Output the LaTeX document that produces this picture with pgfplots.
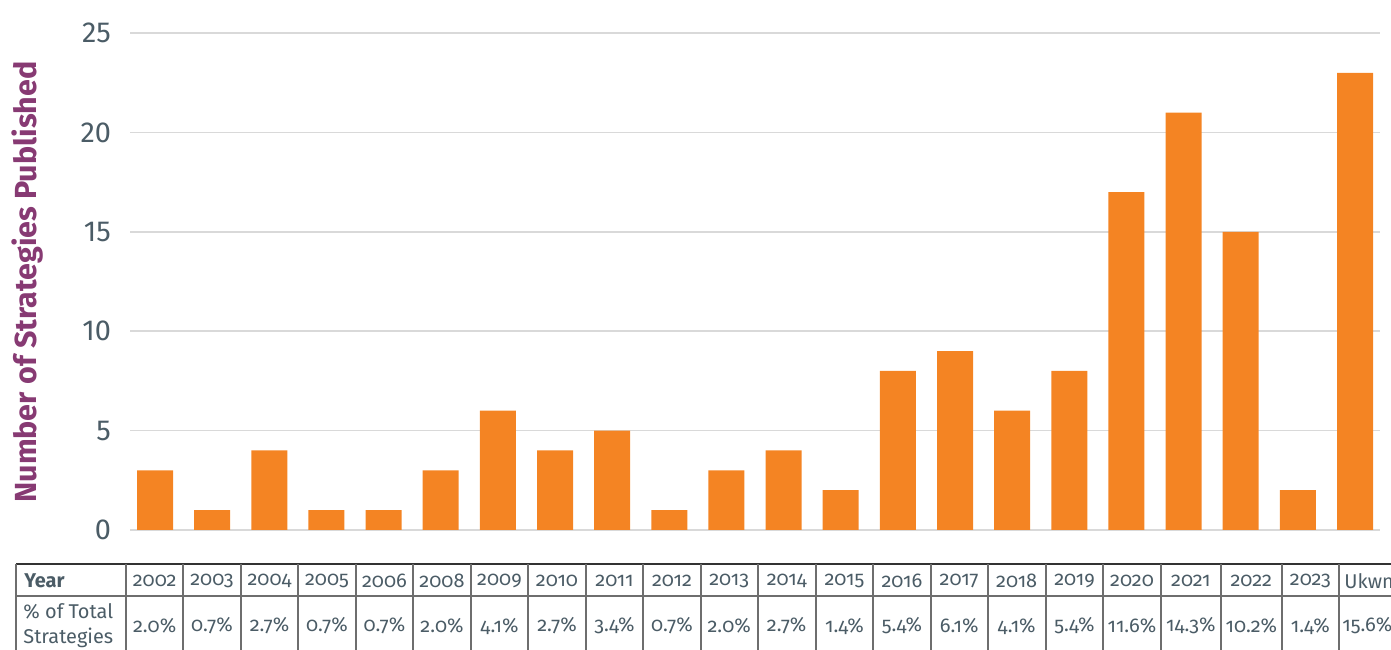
\documentclass[border=0pt]{standalone}
\usepackage{pgfplots}
\pgfplotsset{compat=1.18}
\usepackage{fontspec}
\setmainfont{Fira Sans}[Numbers=OldStyle]
\newfontfamily\lining{Fira Sans}[Numbers=Lining]
\definecolor{barorange}{RGB}{244,132,35}
\definecolor{txt}{RGB}{75,92,102}
\definecolor{purp}{RGB}{135,58,115}
\definecolor{gridc}{RGB}{217,217,217}
\definecolor{tline}{RGB}{110,110,110}
\begin{document}
\begin{tikzpicture}
\path[use as bounding box] (0,0) rectangle (695.5bp,325bp);
\begin{axis}[
  at={(65bp,60bp)}, anchor=south west,
  scale only axis, width=625bp, height=248.5bp,
  xmin=-0.4375, xmax=21.4375, ymin=0, ymax=25,
  ytick={0,5,10,15,20,25}, xtick=\empty,
  ymajorgrids, grid style={gridc, line width=0.8bp},
  axis line style={draw=none},
  major tick length=0pt,
  /pgf/number format/assume math mode=true,
  yticklabel style={font=\fontsize{14.5}{16}\selectfont\lining, text=txt, xshift=-6bp},
  ybar, bar width=18bp,
  clip=false,
]
\addplot[fill=barorange, draw=none] coordinates {(0,3) (1,1) (2,4) (3,1) (4,1) (5,3) (6,6) (7,4) (8,5) (9,1) (10,3) (11,4) (12,2) (13,8) (14,9) (15,6) (16,8) (17,17) (18,21) (19,15) (20,2) (21,23)};
\end{axis}
\node[rotate=90, text=purp, font=\fontsize{15.3}{18}\selectfont\bfseries] at (14bp,184bp) {Number of Strategies Published};
\begin{scope}[x=0.5bp, y=-0.5bp, shift={(0bp,325bp)}]
  \draw[black!80, line width=1bp] (16,564.5) -- (1400,564.5);
  \draw[tline, line width=1bp] (16,595.7) -- (1400,595.7);
  \foreach \b in {16,126,183.3,240.7,298.3,355.7,413.3,470.7,528.3,585.7,643.3,700.7,757.7,815.7,873.3,930.7,987.7,1045.7,1103.3,1160.7,1221,1281.7,1339}
    \draw[tline, line width=1bp] (\b,564.5) -- (\b,665);
  \node[anchor=west, text=txt, font=\fontsize{10}{12.5}\selectfont\bfseries, inner sep=0pt] at (24,581) {Year};
  \node[anchor=west, text=txt, font=\fontsize{10}{12.5}\selectfont, align=left, inner sep=0pt] at (23,626) {\% of Total\\Strategies};
  \foreach \l/\r/\y/\p in {126/183.3/2002/2.0, 183.3/240.7/2003/0.7, 240.7/298.3/2004/2.7, 298.3/355.7/2005/0.7, 355.7/413.3/2006/0.7, 413.3/470.7/2008/2.0, 470.7/528.3/2009/4.1, 528.3/585.7/2010/2.7, 585.7/643.3/2011/3.4, 643.3/700.7/2012/0.7, 700.7/757.7/2013/2.0, 757.7/815.7/2014/2.7, 815.7/873.3/2015/1.4, 873.3/930.7/2016/5.4, 930.7/987.7/2017/6.1, 987.7/1045.7/2018/4.1, 1045.7/1103.3/2019/5.4, 1103.3/1160.7/2020/11.6, 1160.7/1221/2021/14.3, 1221/1281.7/2022/10.2, 1281.7/1339/2023/1.4} {
    \node[text=txt, font=\fontsize{10}{12.5}\selectfont, inner sep=0pt] at ({(\l+\r)/2},581) {\y};
    \node[text=txt, font=\fontsize{10}{12.5}\selectfont, inner sep=0pt] at ({(\l+\r)/2},626) {\p\%};
  }
  \node[anchor=west, text=txt, font=\fontsize{10}{12.5}\selectfont, inner sep=0pt] at (1344,581) {Ukwn};
  \node[anchor=west, text=txt, font=\fontsize{10}{12.5}\selectfont, inner sep=0pt] at (1342,626) {15.6\%};
\end{scope}
\end{tikzpicture}
\end{document}
